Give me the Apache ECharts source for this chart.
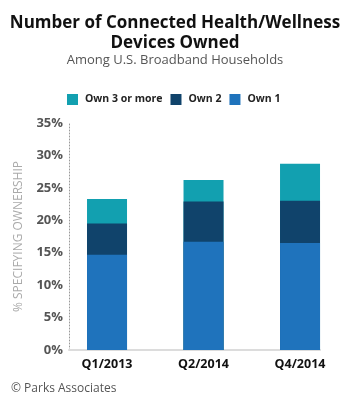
<!DOCTYPE html>
<html>
<head>
<meta charset="utf-8">
<script src="https://cdn.jsdelivr.net/npm/echarts@6/dist/echarts.min.js"></script>
<style>
  html, body { margin: 0; padding: 0; background: #fff; }
  #chart { width: 350px; height: 401px; }
</style>
</head>
<body>
<div id="chart"></div>
<script>
// Stacked share of broadband households by number of devices owned
const categories = ["Q1/2013", "Q2/2014", "Q4/2014"]
const own1 = [14.7, 16.7, 16.5]
const own2 = [4.8, 6.2, 6.5]
const own3Plus = [3.8, 3.3, 5.7]
const yTicks = [0, 5, 10, 15, 20, 25, 30, 35]

const FONT = "Open Sans"
const COLORS = { own3: "#12a0b0", own2: "#10436b", own1: "#1f73bc" }

// x is the category index on a value axis so the bars can sit off-centre
// from the y axis like the original. Stacking doesn't work with two value
// axes, so each segment is drawn as a running total, tallest first.
const cum12 = own1.map((v, i) => v + own2[i])
const cumAll = cum12.map((v, i) => v + own3Plus[i])
const pts = (arr) => arr.map((v, i) => [i, +v.toFixed(2)])

const chart = echarts.init(document.getElementById("chart"), null, { renderer: "canvas" })

const bar = (name, data, color) => ({
  name, type: "bar", barWidth: 40, barGap: "-100%",
  data: pts(data), itemStyle: { color },
})

chart.setOption({
  animation: false,
  textStyle: { fontFamily: FONT },
  title: [
    {
      text: "Number of Connected Health/Wellness\nDevices Owned",
      left: "center", top: 8,
      textStyle: { fontFamily: FONT, fontSize: 17, fontWeight: "bold", color: "#111", lineHeight: 20 },
    },
    {
      text: "Among U.S. Broadband Households",
      left: "center", top: 49,
      textStyle: { fontFamily: FONT, fontSize: 13, fontWeight: "normal", color: "#555" },
    },
    {
      text: "© Parks Associates",
      left: 6, top: 378,
      textStyle: { fontFamily: FONT, fontSize: 12, fontWeight: "normal", color: "#555" },
    },
  ],
  legend: {
    data: ["Own 3 or more", "Own 2", "Own 1"],
    left: 62, top: 89,
    icon: "rect", itemWidth: 11, itemHeight: 11, itemGap: 8,
    textStyle: { fontFamily: FONT, fontSize: 10.5, fontWeight: "bold", color: "#222", padding: [0, 0, 0, 2] },
    selectedMode: false,
  },
  grid: { left: 69, right: 30, top: 123, bottom: 51 },
  xAxis: {
    type: "value",
    min: -0.394, max: 2.207,
    axisLine: { show: true, onZero: false, lineStyle: { color: "#dcdcdc", width: 2 } },
    axisTick: { show: false },
    splitLine: { show: false },
    axisLabel: {
      customValues: [0, 1, 2],
      formatter: (v) => categories[Math.round(v)],
      fontFamily: FONT, fontSize: 12.5, fontWeight: "bold", color: "#111", margin: 8,
    },
  },
  yAxis: {
    type: "value",
    min: 0, max: 35, interval: 5,
    name: "% SPECIFYING OWNERSHIP",
    nameLocation: "middle", nameGap: 44,
    nameTextStyle: { fontFamily: FONT, fontSize: 12, color: "#aaa" },
    axisLine: { show: true, onZero: false, lineStyle: { color: "#999", type: [1, 2], width: 1 } },
    axisTick: { show: false },
    splitLine: { show: false },
    axisLabel: {
      formatter: (v) => yTicks.includes(v) ? v + "%" : "",
      fontFamily: FONT, fontSize: 13, fontWeight: "bold", color: "#555", margin: 6,
    },
  },
  series: [
    bar("Own 3 or more", cumAll, COLORS.own3),
    bar("Own 2", cum12, COLORS.own2),
    bar("Own 1", own1, COLORS.own1),
  ],
})
</script>
</body>
</html>
